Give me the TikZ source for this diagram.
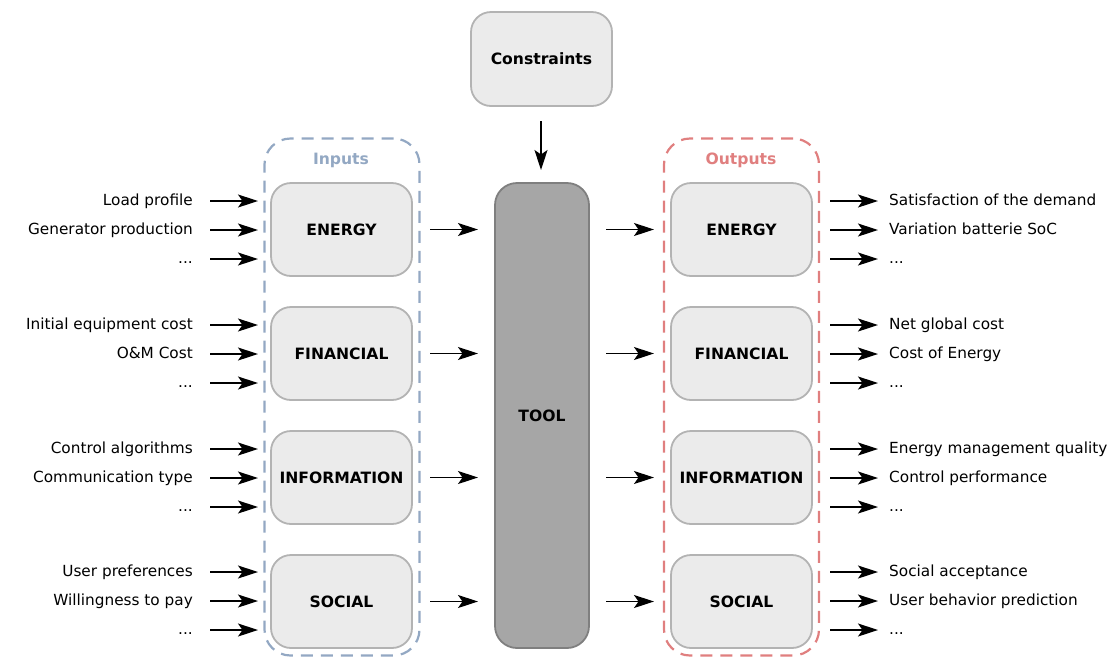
\documentclass[tikz,border=0pt]{standalone}
\usepackage{fontspec}
\setmainfont{DejaVu Sans}
\usetikzlibrary{arrows.meta}
\definecolor{boxfill}{HTML}{EBEBEB}
\definecolor{boxline}{HTML}{B3B3B3}
\definecolor{toolfill}{HTML}{A6A6A6}
\definecolor{toolline}{HTML}{7F7F7F}
\definecolor{inblue}{HTML}{93A8C3}
\definecolor{outred}{HTML}{E07F7F}
\newcommand{\etcdots}{...}
\begin{document}
\begin{tikzpicture}[x=1pt,y=-1pt,
  cat/.style={draw=boxline, fill=boxfill, line width=1.8pt, rounded corners=20pt,
    minimum width=141pt, minimum height=93pt, inner sep=0pt,
    font=\fontsize{15.6}{18}\selectfont\bfseries},
  tool/.style={draw=toolline, fill=toolfill, line width=1.8pt, rounded corners=22pt,
    minimum width=94pt, minimum height=465pt, inner sep=0pt,
    font=\fontsize{15.6}{18}\selectfont\bfseries},
  group/.style={dashed, dash pattern=on 12pt off 8pt, line width=2.2pt, rounded corners=26pt,
    minimum width=155pt, minimum height=517pt, inner sep=0pt},
  grouplabel/.style={font=\fontsize{15.6}{18}\selectfont\bfseries, inner sep=0pt,
    text height=11.4pt, text depth=3.6pt},
  lbl/.style={font=\fontsize{15.3}{18}\selectfont, inner sep=0pt,
    text height=11.2pt, text depth=3.4pt},
  arr/.style={line width=1.3pt, -{Stealth[length=20pt,width=13pt,inset=4.5pt]}}
]
\useasboundingbox (0,0) rectangle (1116,657);

% containers
\node[group, draw=inblue] (ingroup) at (342,397) {};
\node[group, draw=outred] (outgroup) at (741.5,397) {};
\node[grouplabel, text=inblue] (inlabel) at (341,161) {Inputs};
\node[grouplabel, text=outred] (outlabel) at (741,161) {Outputs};

% constraints and tool
\node[cat, minimum height=94pt] (constraints) at (541.5,59) {Constraints};
\node[tool] (toolbox) at (542,415.5) {TOOL};
\coordinate (cs) at (541,121);
\coordinate (ce) at (541,170);
\draw[arr] (cs) -- (ce);

% category boxes
\foreach \name/\txt/\y in {en/ENERGY/229.5, fi/FINANCIAL/353.5, in/INFORMATION/477.5, so/SOCIAL/601.5}{
  \node[cat] (l\name) at (341.5,\y) {\txt};
  \node[cat] (r\name) at (741.5,\y) {\txt};
  \coordinate (a\name) at (430,\y);
  \coordinate (b\name) at (478,\y);
  \coordinate (c\name) at (606,\y);
  \coordinate (d\name) at (654,\y);
  \draw[arr] (a\name) -- (b\name);
  \draw[arr] (c\name) -- (d\name);
}

% input labels and arrows
\foreach \i/\txt/\y in {
  1/Load profile/201, 2/Generator production/230, 3/\etcdots/259,
  4/Initial equipment cost/325, 5/O\&M Cost/354, 6/\etcdots/383,
  7/Control algorithms/449, 8/Communication type/478, 9/\etcdots/507,
  10/User preferences/572, 11/Willingness to pay/601, 12/\etcdots/630}{
  \node[lbl, anchor=east] (il\i) at (193,\y+1) {\txt};
  \coordinate (is\i) at (210,\y);
  \coordinate (ie\i) at (258,\y);
  \draw[arr] (is\i) -- (ie\i);
}

% output labels and arrows
\foreach \i/\txt/\y in {
  1/Satisfaction of the demand/201, 2/Variation batterie SoC/230, 3/\etcdots/259,
  4/Net global cost/325, 5/Cost of Energy/354, 6/\etcdots/383,
  7/Energy management quality/449, 8/Control performance/478, 9/\etcdots/507,
  10/Social acceptance/572, 11/User behavior prediction/601, 12/\etcdots/630}{
  \node[lbl, anchor=west] (ol\i) at (889,\y+1) {\txt};
  \coordinate (os\i) at (830,\y);
  \coordinate (oe\i) at (878,\y);
  \draw[arr] (os\i) -- (oe\i);
}
\end{tikzpicture}
\end{document}
